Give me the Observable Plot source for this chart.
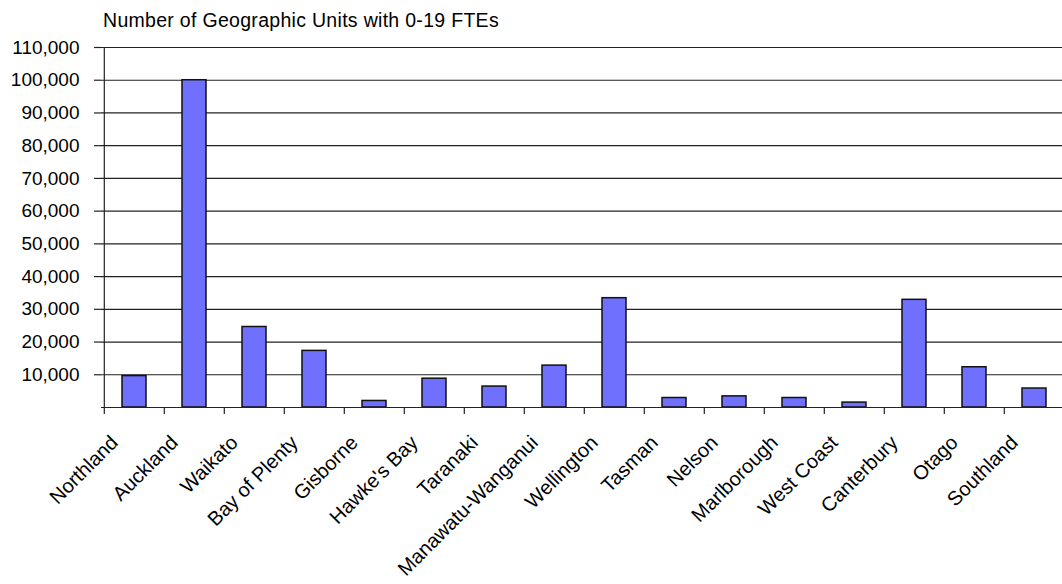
<!DOCTYPE html>
<html><head><meta charset="utf-8">
<script src="https://cdn.jsdelivr.net/npm/d3@7"></script>
<script src="https://cdn.jsdelivr.net/npm/@observablehq/plot@0.6"></script>
<style>
body{margin:0;background:#fff;overflow:hidden;font-family:"Liberation Sans",Arial,sans-serif;}
#title{height:34px;line-height:40px;padding-left:103px;font-size:19.5px;letter-spacing:0.3px;color:#000;white-space:nowrap;box-sizing:border-box;}
</style></head><body>
<div id="title">Number of Geographic Units with 0-19 FTEs</div>
<div id="chart"></div>
<script>
const regions = ["Northland","Auckland","Waikato","Bay of Plenty","Gisborne","Hawke's Bay","Taranaki","Manawatu-Wanganui","Wellington","Tasman","Nelson","Marlborough","West Coast","Canterbury","Otago","Southland"];
const units = [9600,100000,24600,17300,2000,8800,6400,12800,33400,2900,3400,2900,1500,32900,12300,5800];
const yTicks = [10000,20000,30000,40000,50000,60000,70000,80000,90000,100000,110000];

const data = regions.map((r, i) => ({region: r, units: units[i]}));
const step = 60.4;
const left = 101;

const chart = Plot.plot({
  width: 1062,
  height: 550,
  marginTop: 13,
  marginLeft: left,
  marginRight: 0,
  marginBottom: 177,
  x: {domain: regions, range: [left, left + step * regions.length], paddingInner: 0.6, paddingOuter: 0.3, label: null},
  y: {domain: [0, 110000], label: null},
  style: {fontFamily: "'Liberation Sans', Arial, sans-serif", fontSize: "19px", color: "#000", background: "#fff", overflow: "hidden"},
  marks: [
    Plot.gridY(yTicks, {stroke: "#222", strokeOpacity: 1, strokeWidth: 1.2}),
    Plot.barY(data, {x: "region", y: "units", fill: "#7070ff", stroke: "#111", strokeWidth: 1.5}),
    Plot.ruleY([0], {stroke: "#222", strokeWidth: 1.2}),
    Plot.ruleX([regions[0]], {dx: -step / 2, y1: 0, y2: 110000, stroke: "#222", strokeWidth: 1.2}),
    Plot.axisY(yTicks, {tickSize: 7, tickPadding: 15, tickFormat: d3.format(","), label: null, stroke: "#222", strokeWidth: 1.2}),
    Plot.axisX({tickSize: 7, tickFormat: () => "", dx: -step / 2, label: null, stroke: "#222", strokeWidth: 1.2}),
    Plot.axisX({tickSize: 0, tickRotate: -45, textAnchor: "end", label: null, dx: -20, dy: 20, fontSize: 20})
  ]
});
document.getElementById("chart").appendChild(chart);
</script>
</body></html>
